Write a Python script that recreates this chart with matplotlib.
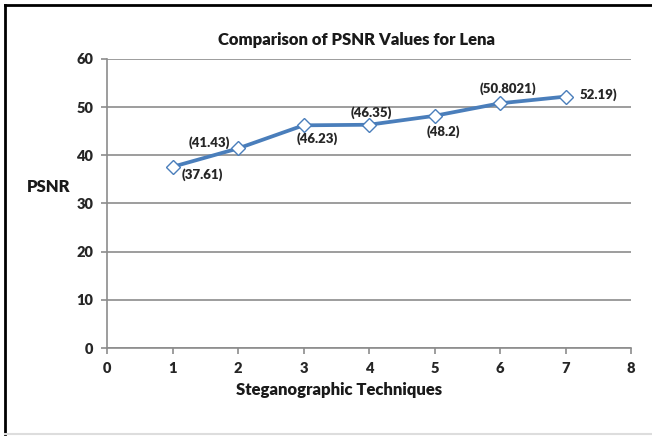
import matplotlib
matplotlib.use("Agg")
import matplotlib.pyplot as plt
from matplotlib.lines import Line2D

techniques = [1, 2, 3, 4, 5, 6, 7]
psnr = [37.61, 41.43, 46.23, 46.35, 48.2, 50.8021, 52.19]
labels = ["(37.61)", "(41.43)", "(46.23)", "(46.35)", "(48.2)", "(50.8021)", "52.19)"]
# label offsets in pixels relative to each point
offsets = [(30, -8), (-29, 6), (14, -13), (2, 12), (9, -16), (8, 15), (14, 2)]

plt.rcParams['font.family'] = ['Lato', 'DejaVu Sans']

fig = plt.figure(figsize=(6.52, 4.36), dpi=100)
ax = fig.add_axes([107/652, 88/436, 524/652, 289/436])

grey = '#8c8c8c'
blue = '#4a7ebb'

ax.plot(techniques, psnr, color=blue, lw=2.7, marker='D', ms=7,
        mfc='white', mec=blue, mew=1.0, zorder=3)

for x, y, t, (dx, dy) in zip(techniques, psnr, labels, offsets):
    ha = 'left' if t == "52.19)" else 'center'
    ax.annotate(t, (x, y), xytext=(dx, dy), textcoords='offset pixels',
                ha=ha, va='center', fontsize=9.5, fontweight='heavy', color='#262626')

ax.set_xlim(0, 8)
ax.set_ylim(0, 60)
ax.set_xticks(range(0, 9))
ax.set_yticks(range(0, 61, 10))
ax.yaxis.grid(True, color=grey, lw=1.2)
ax.set_axisbelow(True)
for s in ['top', 'right']:
    ax.spines[s].set_visible(False)
for s in ['left', 'bottom']:
    ax.spines[s].set_color(grey)
    ax.spines[s].set_linewidth(1.2)
ax.tick_params(axis='both', color=grey, length=4, width=1.2, labelsize=10.5,
               labelcolor='#262626')
for lab in ax.get_xticklabels() + ax.get_yticklabels():
    lab.set_fontweight('heavy')
ax.tick_params(axis='x', pad=6)
ax.tick_params(axis='y', pad=6)

fig.text(357/652, 1 - 40/436, "Comparison of PSNR Values for Lena", ha='center',
         va='center', fontsize=12, fontweight='heavy', color='#1a1a1a')
fig.text(49/652, 1 - 187/436, "PSNR", ha='center', va='center', fontsize=12,
         fontweight='heavy', color='#1a1a1a')
fig.text(339/652, 1 - 390/436, "Steganographic Techniques", ha='center', va='center',
         fontsize=12, fontweight='heavy', color='#1a1a1a')

# outer border
fig.add_artist(Line2D([5/652, 5/652], [1 - 5/436, 1 - 434/436], color='black', lw=2,
                      transform=fig.transFigure))
fig.add_artist(Line2D([5/652, 1], [1 - 5/436, 1 - 5/436], color='black', lw=2,
                      transform=fig.transFigure))
fig.add_artist(Line2D([5/652, 1], [1 - 434/436, 1 - 434/436], color='#dddddd', lw=1.5,
                      transform=fig.transFigure))

fig.savefig('out.png', dpi=100)
